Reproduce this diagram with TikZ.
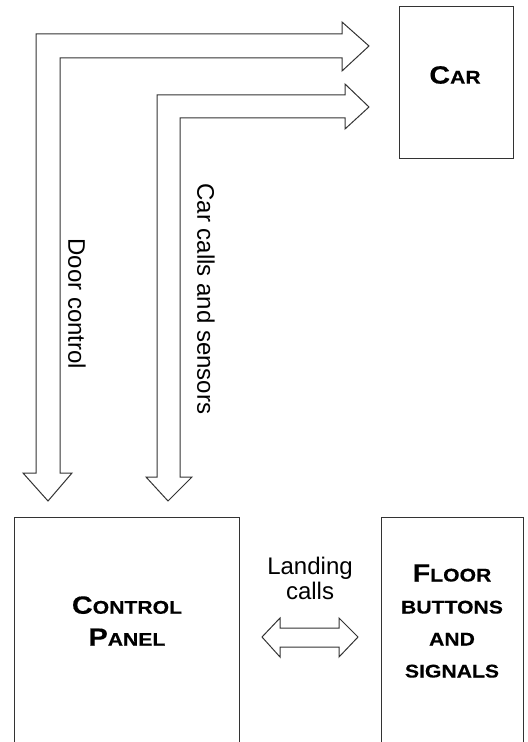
\documentclass[tikz,border=0pt]{standalone}
\usepackage{fontspec}
\setmainfont{Liberation Sans}
\newfontfamily\blockfont[FakeStretch=1.15,FakeBold=0.3]{Liberation Sans Bold}
\usetikzlibrary{positioning, calc}

% fake small caps: first letter large, rest small
\newcommand{\smcap}[2]{{\blockfont\fontsize{12.5}{16}\selectfont #1\fontsize{9.2}{16}\selectfont #2}}
\newcommand{\allsmcap}[1]{{\blockfont\fontsize{9.2}{16}\selectfont #1}}

\begin{document}
\begin{tikzpicture}[x=0.5pt, y=-0.5pt,
    box/.style={draw=black!80, line width=0.5pt, rectangle, inner sep=0pt},
    blockarrow/.style={draw=black!80, line width=0.5pt, fill=white, line join=miter},
    flowtext/.style={font=\fontsize{12}{12.5}\selectfont, inner sep=0pt},
    title/.style={align=center, inner sep=0pt, font=\fontsize{12}{16}\selectfont}]
  \useasboundingbox (0,0) rectangle (527,742);
  \clip (0,0) rectangle (527,742);

  % Blocks
  \node[box, minimum width=57pt, minimum height=76pt] (car) at (456,83) {};
  \node[box, minimum width=112.5pt, minimum height=130pt] (panel) at (126.5,647) {};
  \node[box, minimum width=71pt, minimum height=130pt] (floor) at (452,647) {};

  \node[title] (carlabel) at (455,75) {\smcap{C}{AR}};
  \node[title] (panellabel) at (127,621) {\smcap{C}{ONTROL}\\\smcap{P}{ANEL}};
  \node[title] (floorlabel) at (452,621)
    {\smcap{F}{LOOR}\\\allsmcap{BUTTONS}\\\allsmcap{AND}\\\allsmcap{SIGNALS}};

  % Arrow tips
  \coordinate (doortip) at (369,46);
  \coordinate (calltip) at (369,107);
  \coordinate (doorend) at (48,501);
  \coordinate (callend) at (168,501);

  % Door control arrow
  \draw[blockarrow] (36,473) -- (36,34) -- (342,34) -- (342,22) -- (doortip)
    -- (342,71) -- (342,58) -- (60,58) -- (60,473) -- (72,473) -- (doorend)
    -- (23,473) -- cycle;
  % Car calls arrow
  \draw[blockarrow] (157,477) -- (157,95) -- (345,95) -- (345,84) -- (calltip)
    -- (345,129) -- (345,118) -- (180,118) -- (180,477) -- (192,477) -- (callend)
    -- (146,477) -- cycle;

  % Landing calls arrow
  \draw[blockarrow] (262,637) -- (280,618) -- (280,628) -- (339,628) -- (339,618)
    -- (358,637) -- (339,657) -- (339,647) -- (280,647) -- (280,657) -- cycle;

  % Labels
  \node[flowtext, rotate=-90] (doorlabel) at (77,304) {Door control};
  \node[flowtext, rotate=-90] (calllabel) at (206,299) {Car calls and sensors};
  \node[flowtext, align=center] (landing) at (310,578) {Landing\\calls};
\end{tikzpicture}
\end{document}
